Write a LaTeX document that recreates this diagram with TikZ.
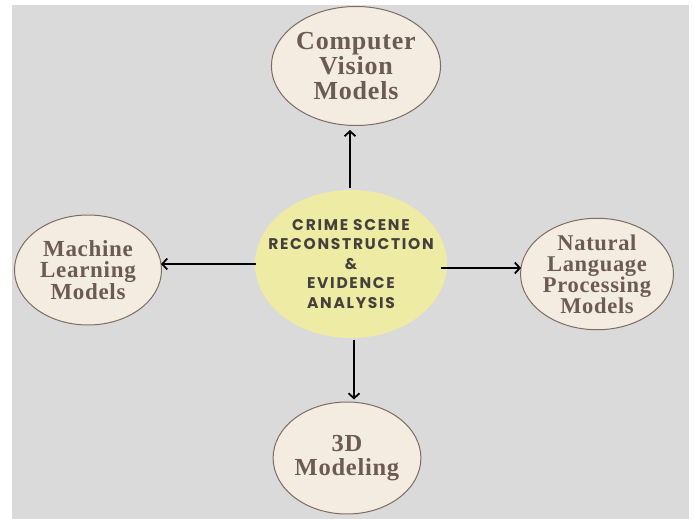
\documentclass[tikz,border=0pt]{standalone}
\usepackage{fontspec}
\setmainfont{Liberation Serif}
\newfontfamily\centerfont[LetterSpace=11]{Poppins Bold}
\newfontfamily\outerfont[LetterSpace=3]{Liberation Serif}
\usetikzlibrary{shapes.geometric,arrows.meta}
\definecolor{bggray}{HTML}{DADADA}
\definecolor{outerfill}{HTML}{F4ECE1}
\definecolor{outerdraw}{HTML}{7D6C62}
\definecolor{outertext}{HTML}{6B5B52}
\definecolor{centerfill}{HTML}{EEEBA4}
\definecolor{centertext}{HTML}{46403C}
\tikzset{
  outer/.style={ellipse, draw=outerdraw, line width=1pt, fill=outerfill, text=outertext, align=center, inner sep=0pt},
  hub/.style={ellipse, fill=centerfill, text=centertext, align=center, inner xsep=-30pt, inner ysep=-10pt, font=\centerfont\fontsize{15.5}{19.5}\selectfont},
  arr/.style={line width=2.2pt, -{Straight Barb[length=5pt,width=11pt,line width=1.8pt]}}
}
\begin{document}
\begin{tikzpicture}[x=1pt,y=-1pt]
\useasboundingbox (0,0) rectangle (694,519);
\fill[white] (0,0) rectangle (694,519);
\fill[bggray] (12,5) rectangle (689,519);

\node[hub, minimum width=192pt, minimum height=148pt] (c) at (351,264)
  {CRIME SCENE\\RECONSTRUCTION\\\&\\EVIDENCE\\ANALYSIS};

\node[outer, minimum width=142pt, minimum height=119pt,
  font=\outerfont\bfseries\fontsize{26}{25}\selectfont] (top) at (356,66)
  {Computer\\Vision\\Models};
\node[outer, minimum width=147pt, minimum height=110pt,
  font=\outerfont\bfseries\fontsize{23}{21}\selectfont] (left) at (88,270)
  {Machine\\Learning\\Models};
\node[outer, minimum width=146pt, minimum height=108pt,
  font=\outerfont\bfseries\fontsize{22.5}{21}\selectfont] (right) at (597,274)
  {Natural\\Language\\Processing\\Models};
\node[outer, minimum width=138pt, minimum height=112pt,
  font=\outerfont\bfseries\fontsize{24.5}{24}\selectfont] (bottom) at (347,458)
  {3D\\Modeling};

\draw[arr] ([xshift=-1pt,yshift=2pt]c.north) -- ([xshift=-1pt,yshift=-4pt]c.north |- top.south);
\draw[arr] ([xshift=1pt]c.west) -- ([xshift=-1pt]c.west -| left.east);
\draw[arr] ([xshift=-6pt,yshift=-4pt]c.east) -- ([xshift=1pt,yshift=-4pt]c.east -| right.west);
\draw[arr] ([xshift=3pt,yshift=-2pt]c.south) -- ([xshift=3pt,yshift=2pt]c.south |- bottom.north);
\end{tikzpicture}
\end{document}
